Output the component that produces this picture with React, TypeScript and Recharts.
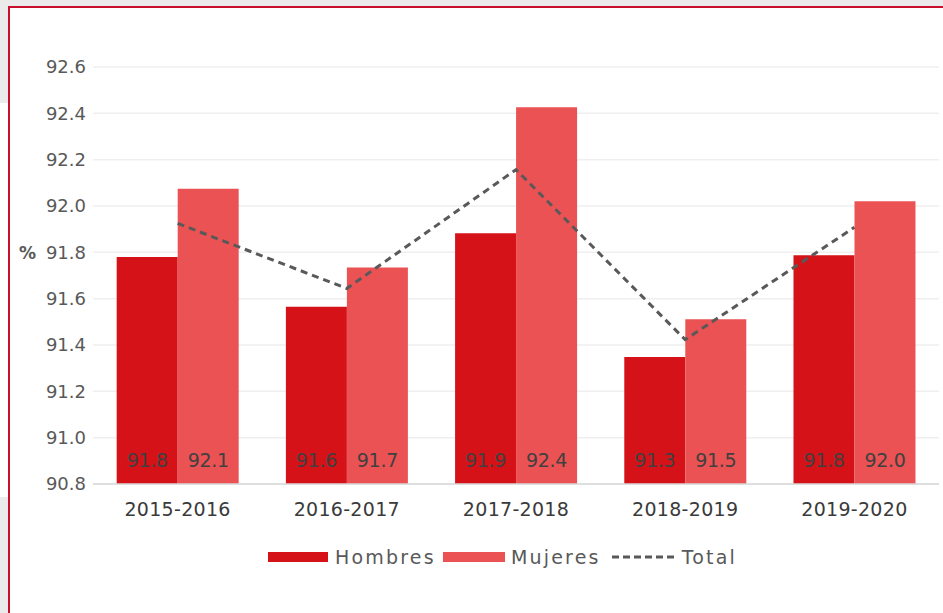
import { Bar, CartesianGrid, ComposedChart, LabelList, Line, XAxis, YAxis } from "recharts";

const periods = ["2015-2016", "2016-2017", "2017-2018", "2018-2019", "2019-2020"];
const hombres = [91.78, 91.565, 91.882, 91.348, 91.787];
const mujeres = [92.075, 91.734, 92.426, 91.511, 92.02];
const total = [91.925, 91.644, 92.157, 91.423, 91.908];
const yTicks = [90.8, 91.0, 91.2, 91.4, 91.6, 91.8, 92.0, 92.2, 92.4, 92.6];

const RED_DARK = "#d41217";
const RED_LIGHT = "#ea5254";
const FONT = "'DejaVu Sans', sans-serif";

const data = periods.map((period, i) => ({
  period,
  hombres: hombres[i],
  mujeres: mujeres[i],
  total: total[i],
}));

const labelStyle = {
  fill: "#404040",
  fontSize: 19,
  fontFamily: FONT,
  letterSpacing: -0.3,
};

function LegendRow() {
  const text = { fontFamily: FONT, fontSize: 19, color: "#595959", letterSpacing: 2.2 };
  return (
    <div
      style={{
        position: "absolute",
        left: 268,
        top: 545,
        display: "flex",
        alignItems: "center",
        height: 24,
      }}
    >
      <span style={{ width: 60, height: 10, background: RED_DARK, marginRight: 7 }} />
      <span style={{ ...text, marginRight: 7 }}>Hombres</span>
      <span style={{ width: 62, height: 10, background: RED_LIGHT, marginRight: 6 }} />
      <span style={{ ...text, marginRight: 11 }}>Mujeres</span>
      <svg width={64} height={10} style={{ marginRight: 6 }}>
        <line x1={0} y1={5} x2={64} y2={5} stroke="#595959" strokeWidth={3} strokeDasharray="7 4" />
      </svg>
      <span style={text}>Total</span>
    </div>
  );
}

export default function App() {
  return (
    <div
      style={{
        position: "fixed",
        left: 0,
        top: 0,
        width: 943,
        height: 613,
        background: "#ebebeb",
        overflow: "hidden",
      }}
    >
      <div style={{ position: "absolute", left: 0, top: 103, width: 8, height: 394, background: "#fff" }} />
      <div
        style={{
          position: "absolute",
          left: 8,
          top: 6,
          width: 935,
          height: 607,
          background: "#fff",
          borderLeft: "2px solid #c8102e",
          borderTop: "2px solid #c8102e",
          boxSizing: "border-box",
        }}
      />
      <div style={{ position: "absolute", left: 0, top: 0 }}>
        <ComposedChart
          width={943}
          height={613}
          data={data}
          margin={{ top: 67, right: 4, bottom: 99, left: 0 }}
          barCategoryGap="14%"
          barGap={0}
        >
          <CartesianGrid vertical={false} stroke="#efefef" strokeWidth={1.5} />
          <XAxis
            dataKey="period"
            height={30}
            tickLine={false}
            axisLine={{ stroke: "#d9d9d9", strokeWidth: 1.5 }}
            tickMargin={13}
            tick={{ fill: "#3a3a3a", fontSize: 19, fontFamily: FONT, letterSpacing: 0.3 }}
          />
          <YAxis
            width={93}
            domain={[90.8, 92.6]}
            ticks={yTicks}
            interval={0}
            tickLine={false}
            axisLine={false}
            tickMargin={1}
            tickFormatter={(v: number) => v.toFixed(1)}
            tick={{ fill: "#595959", fontSize: 18, fontFamily: FONT }}
          />
          <Bar dataKey="hombres" name="Hombres" fill={RED_DARK} isAnimationActive={false}>
            <LabelList
              dataKey="hombres"
              position="insideBottom"
              offset={17}
              formatter={(v: number) => v.toFixed(1)}
              {...labelStyle}
            />
          </Bar>
          <Bar dataKey="mujeres" name="Mujeres" fill={RED_LIGHT} isAnimationActive={false}>
            <LabelList
              dataKey="mujeres"
              position="insideBottom"
              offset={17}
              formatter={(v: number) => v.toFixed(1)}
              {...labelStyle}
            />
          </Bar>
          <Line
            dataKey="total"
            name="Total"
            type="linear"
            stroke="#595959"
            strokeWidth={3}
            strokeDasharray="7 5"
            dot={false}
            activeDot={false}
            isAnimationActive={false}
          />
        </ComposedChart>
      </div>
      <div
        style={{
          position: "absolute",
          left: 19,
          top: 243,
          fontFamily: FONT,
          fontWeight: "bold",
          fontSize: 17,
          color: "#595959",
        }}
      >
        %
      </div>
      <LegendRow />
    </div>
  );
}
